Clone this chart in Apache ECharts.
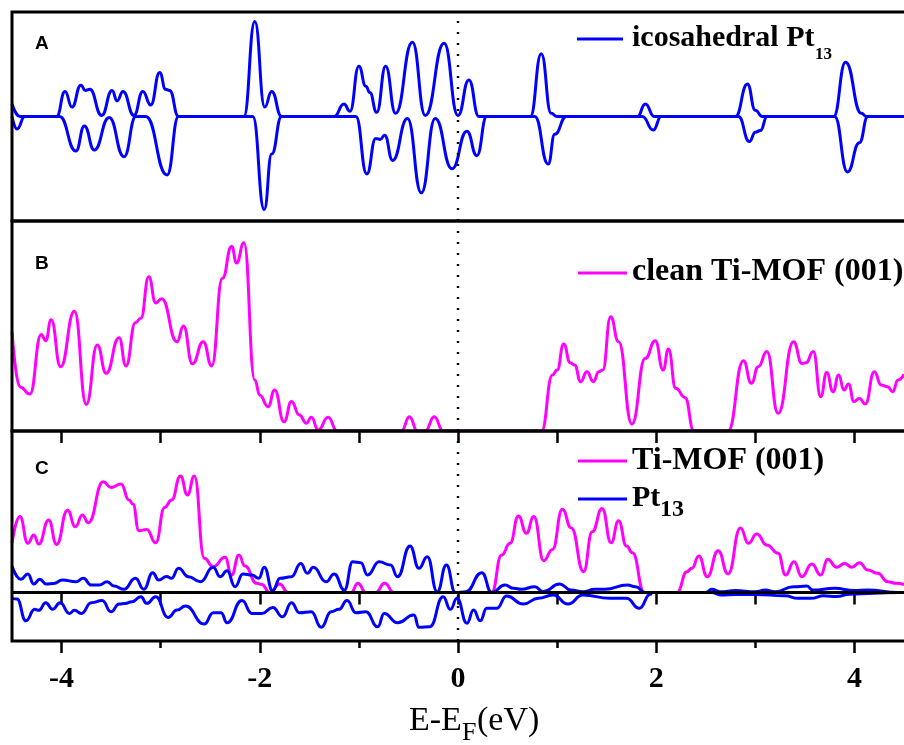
<!DOCTYPE html>
<html>
<head>
<meta charset="utf-8">
<script src="https://cdn.jsdelivr.net/npm/echarts@6/dist/echarts.min.js"></script>
<style>
html,body{margin:0;padding:0;background:#fff;}
#chart{width:904px;height:745px;}
</style>
</head>
<body>
<div id="chart"></div>
<script>
// ---------- data (energy in eV, DOS in arbitrary units) ----------
const xTicks = [-4, -3, -2, -1, 0, 1, 2, 3, 4];
const xMajorTicks = [-4, -2, 0, 2, 4];
const xMinorTicks = [-3, -1, 1, 3];

// Panel A: icosahedral Pt13, spin up (positive) and spin down (negative)
const ptA_up = [[-4.5,0.12],[-4.42,0],[-4.05,0],[-3.965,0.24],[-3.895,0.09],[-3.805,0.30],[-3.76,0.25],[-3.715,0.26],[-3.595,0.01],[-3.49,0.25],[-3.44,0.15],[-3.38,0.24],[-3.27,0.01],[-3.18,0.24],[-3.10,0.11],[-3.01,0.42],[-2.95,0.26],[-2.91,0.25],[-2.82,0],[-2.16,0],[-2.05,0.91],[-1.95,0.09],[-1.88,0.24],[-1.78,0],[-1.25,0],[-1.15,0.12],[-1.09,0.05],[-1.0,0.48],[-0.93,0.29],[-0.89,0.23],[-0.82,0.04],[-0.73,0.48],[-0.63,0.03],[-0.46,0.71],[-0.33,0.01],[-0.14,0.70],[0.0,0.01],[0.11,0.35],[0.21,0],[0.73,0],[0.84,0.60],[0.94,0.03],[1.0,0],[1.81,0],[1.89,0.12],[1.98,0],[2.80,0],[2.92,0.31],[3.0,0.06],[3.07,0],[3.79,0],[3.91,0.52],[4.07,0.03],[4.12,0],[4.5,0]];
const ptA_down = [[-4.5,0],[-4.45,-0.12],[-4.37,0],[-4.02,0],[-3.855,-0.33],[-3.77,-0.09],[-3.67,-0.32],[-3.52,-0.01],[-3.37,-0.385],[-3.25,0],[-3.15,0],[-2.935,-0.56],[-2.82,0],[-2.07,0],[-1.955,-0.89],[-1.88,-0.36],[-1.78,0],[-1.03,0],[-0.92,-0.55],[-0.83,-0.21],[-0.785,-0.22],[-0.74,-0.18],[-0.66,-0.42],[-0.51,-0.02],[-0.37,-0.73],[-0.23,-0.02],[-0.06,-0.50],[0.09,-0.14],[0.19,-0.375],[0.29,0],[0.775,0],[0.91,-0.455],[0.976,-0.17],[1.093,0],[1.86,0],[1.97,-0.13],[2.05,0],[2.83,0],[2.94,-0.24],[3.0,-0.15],[3.05,-0.135],[3.12,0],[3.80,0],[3.93,-0.53],[4.05,-0.25],[4.135,0],[4.5,0]];

// Panel B: clean Ti-MOF (001)
const mofB = [[-4.5,0.473],[-4.42,0.21],[-4.32,0.176],[-4.205,0.46],[-4.16,0.43],[-4.105,0.53],[-4.01,0.306],[-3.87,0.57],[-3.75,0.127],[-3.64,0.41],[-3.55,0.275],[-3.42,0.444],[-3.35,0.31],[-3.255,0.516],[-3.20,0.537],[-3.12,0.735],[-3.05,0.61],[-2.99,0.63],[-2.835,0.425],[-2.77,0.50],[-2.68,0.32],[-2.57,0.425],[-2.485,0.31],[-2.377,0.727],[-2.284,0.88],[-2.234,0.80],[-2.16,0.897],[-2.05,0.243],[-2.0,0.17],[-1.916,0.116],[-1.85,0.195],[-1.755,0.044],[-1.68,0.14],[-1.60,0.076],[-1.53,0.037],[-1.48,0.065],[-1.41,0.005],[-1.31,0.065],[-1.22,0],[-0.57,0],[-0.49,0.068],[-0.41,0],[-0.33,0],[-0.24,0.068],[-0.15,0],[0.843,0],[0.953,0.267],[1.0,0.29],[1.066,0.414],[1.133,0.325],[1.177,0.314],[1.237,0.235],[1.30,0.282],[1.367,0.235],[1.42,0.282],[1.46,0.29],[1.54,0.544],[1.62,0.425],[1.755,0.033],[1.89,0.346],[1.99,0.43],[2.07,0.29],[2.123,0.39],[2.197,0.203],[2.29,0.16],[2.38,0],[2.725,0],[2.88,0.335],[2.96,0.227],[3.03,0.306],[3.116,0.378],[3.23,0.084],[3.385,0.425],[3.47,0.322],[3.51,0.325],[3.585,0.378],[3.66,0.163],[3.72,0.278],[3.785,0.187],[3.84,0.267],[3.895,0.195],[3.94,0.224],[3.995,0.14],[4.05,0.155],[4.11,0.129],[4.20,0.282],[4.27,0.219],[4.335,0.211],[4.385,0.187],[4.44,0.243],[4.5,0.27]];

// Panel C: Ti-MOF (001) and Pt13 (up / down) in the Pt13/Ti-MOF system
const mofC = [[-4.5,0.305],[-4.42,0.47],[-4.34,0.305],[-4.28,0.356],[-4.23,0.30],[-4.13,0.449],[-4.05,0.298],[-3.94,0.51],[-3.86,0.407],[-3.79,0.48],[-3.73,0.432],[-3.58,0.686],[-3.50,0.651],[-3.40,0.672],[-3.32,0.573],[-3.28,0.548],[-3.22,0.383],[-3.14,0.39],[-3.05,0.308],[-2.96,0.527],[-2.89,0.573],[-2.80,0.721],[-2.73,0.604],[-2.66,0.721],[-2.56,0.212],[-2.47,0.16],[-2.35,0.218],[-2.285,0.108],[-2.21,0.232],[-2.15,0.164],[-2.03,0.057],[-1.98,0.05],[-1.90,0],[-1.80,0.053],[-1.715,0],[-1.08,0],[-1.01,0.057],[-0.93,0],[-0.83,0],[-0.74,0.057],[-0.647,0],[0.34,0],[0.44,0.232],[0.525,0.305],[0.61,0.474],[0.69,0.367],[0.765,0.47],[0.865,0.197],[0.953,0.267],[1.053,0.515],[1.143,0.40],[1.267,0.129],[1.354,0.376],[1.454,0.52],[1.545,0.308],[1.62,0.445],[1.70,0.288],[1.76,0.246],[1.88,0],[2.21,0],[2.31,0.129],[2.36,0.15],[2.43,0.226],[2.515,0.098],[2.625,0.259],[2.725,0.115],[2.85,0.40],[2.93,0.305],[3.015,0.362],[3.116,0.294],[3.23,0.243],[3.305,0.108],[3.39,0.19],[3.47,0.098],[3.57,0.176],[3.66,0.108],[3.73,0.206],[3.82,0.156],[3.90,0.18],[3.975,0.156],[4.05,0.185],[4.135,0.139],[4.235,0.119],[4.335,0.067],[4.42,0.057],[4.5,0.05]];
const ptC_up = [[-4.5,0.164],[-4.41,0.082],[-4.34,0.115],[-4.28,0.053],[-4.22,0.082],[-4.155,0.053],[-4.08,0.056],[-3.99,0.077],[-3.855,0.067],[-3.78,0.088],[-3.70,0.046],[-3.62,0.046],[-3.54,0.067],[-3.47,0.04],[-3.37,0.02],[-3.255,0.088],[-3.17,0.02],[-3.08,0.123],[-3.02,0.077],[-2.94,0.10],[-2.89,0.088],[-2.82,0.15],[-2.72,0.098],[-2.60,0.067],[-2.47,0.156],[-2.40,0.098],[-2.33,0.135],[-2.25,0.036],[-2.17,0.115],[-2.08,0.108],[-2.01,0.088],[-1.955,0.156],[-1.87,0.011],[-1.795,0.088],[-1.68,0.098],[-1.587,0.18],[-1.52,0.119],[-1.46,0.156],[-1.33,0.067],[-1.25,0.115],[-1.146,0.015],[-1.063,0.19],[-0.98,0.185],[-0.913,0.108],[-0.796,0.19],[-0.68,0.17],[-0.61,0.098],[-0.484,0.288],[-0.394,0.15],[-0.31,0.222],[-0.21,0.005],[-0.117,0.17],[-0.027,0],[0.08,0.005],[0.24,0.123],[0.34,0],[0.475,0.046],[0.56,0.026],[0.64,0.02],[0.775,0.036],[0.86,0.006],[1.026,0.053],[1.14,0.015],[1.26,0.005],[1.38,0.02],[1.48,0.02],[1.71,0.046],[1.79,0.036],[1.89,0],[2.5,0],[2.56,0.02],[2.65,0.005],[2.8,0.012],[3.0,0.005],[3.1,0.015],[3.2,0.005],[3.385,0.036],[3.52,0.04],[3.58,0.015],[3.80,0.026],[4.0,0.012],[4.13,0.015],[4.44,0],[4.5,0]];
const ptC_down = [[-4.5,-0.036],[-4.45,-0.04],[-4.36,-0.175],[-4.27,-0.104],[-4.23,-0.11],[-4.16,-0.063],[-4.09,-0.104],[-4.015,-0.063],[-3.92,-0.129],[-3.87,-0.11],[-3.80,-0.129],[-3.70,-0.063],[-3.59,-0.05],[-3.50,-0.119],[-3.42,-0.071],[-3.36,-0.068],[-3.29,-0.057],[-3.20,-0.026],[-3.14,-0.067],[-3.05,-0.026],[-2.925,-0.154],[-2.835,-0.108],[-2.75,-0.084],[-2.56,-0.195],[-2.47,-0.125],[-2.39,-0.125],[-2.33,-0.187],[-2.18,-0.05],[-2.08,-0.129],[-1.98,-0.13],[-1.87,-0.092],[-1.77,-0.15],[-1.68,-0.063],[-1.60,-0.125],[-1.48,-0.119],[-1.38,-0.215],[-1.28,-0.119],[-1.20,-0.104],[-1.12,-0.05],[-1.03,-0.125],[-0.93,-0.119],[-0.81,-0.212],[-0.745,-0.129],[-0.61,-0.187],[-0.445,-0.139],[-0.394,-0.215],[-0.284,-0.212],[-0.15,-0.026],[-0.077,-0.104],[-0.01,-0.036],[0.09,-0.19],[0.157,-0.108],[0.224,-0.175],[0.29,-0.098],[0.39,-0.098],[0.49,-0.022],[0.66,-0.071],[0.81,-0.036],[0.96,-0.015],[1.11,-0.071],[1.26,-0.015],[1.53,-0.036],[1.70,-0.036],[1.83,-0.098],[1.94,-0.01],[1.96,0],[2.56,0],[2.65,-0.015],[2.8,-0.012],[3.0,-0.012],[3.30,-0.02],[3.43,-0.036],[3.56,-0.036],[3.69,-0.02],[3.82,-0.025],[3.95,-0.01],[4.44,0],[4.5,0]];

// ---------- layout / style ----------
const SERIF = "'Liberation Serif', 'Times New Roman', serif";
const SANS = "'Liberation Sans', Arial, sans-serif";
const BLUE = '#0000ff';
const PINK = '#ff00ff';
const L = 12, W = 898;
const panels = [{top: 12, h: 209}, {top: 221, h: 210}, {top: 431, h: 210}];

const chart = echarts.init(document.getElementById('chart'), null, {renderer: 'canvas'});

function lineSeries(name, data, color, xi, yi, extra) {
  return Object.assign({
    name: name, type: 'line', data: data,
    xAxisIndex: xi, yAxisIndex: yi,
    showSymbol: false, symbol: 'none',
    smooth: 0.5, smoothMonotone: 'x',
    lineStyle: {color: color, width: 3},
    itemStyle: {color: color},
    clip: true, silent: true, z: 3
  }, extra || {});
}
const fermiLine = {
  silent: true, symbol: 'none', label: {show: false},
  lineStyle: {color: '#000', width: 2.4, type: [2, 9]},
  data: [{xAxis: 0}]
};

function txt(x, y, s, size, weight, family, align) {
  return {type: 'text', z: 100, x: x, y: y, silent: true,
    style: {text: s, fontFamily: family || SERIF, fontWeight: weight || 'bold', fontSize: size,
      fill: '#000', align: align || 'left', verticalAlign: 'middle'}};
}
function legLine(x1, x2, y, color) {
  return {type: 'line', z: 100, silent: true, shape: {x1: x1, y1: y, x2: x2, y2: y}, style: {stroke: color, lineWidth: 3}};
}

const xBase = {type: 'value', min: -4.5, max: 4.5, splitLine: {show: false}, axisLine: {show: false}};

const option = {
  animation: false,
  backgroundColor: '#fff',
  grid: panels.map(p => ({left: L, top: p.top, width: W, height: p.h, show: false})),
  xAxis: [
    Object.assign({}, xBase, {gridIndex: 0, show: false}),
    Object.assign({}, xBase, {gridIndex: 1, position: 'top',
      axisTick: {show: true, inside: true, length: 12, customValues: xTicks, lineStyle: {color: '#000', width: 2.5}},
      axisLabel: {show: false}}),
    Object.assign({}, xBase, {gridIndex: 2, position: 'top',
      axisTick: {show: true, inside: true, length: 12, customValues: xTicks, lineStyle: {color: '#000', width: 2.5}},
      axisLabel: {show: false}}),
    Object.assign({}, xBase, {gridIndex: 2, position: 'bottom',
      axisTick: {show: true, inside: false, length: 12, customValues: xMajorTicks, lineStyle: {color: '#000', width: 2.5}},
      axisLabel: {show: true, customValues: xMajorTicks, margin: 23,
        fontFamily: SERIF, fontWeight: 'bold', fontSize: 30, color: '#000',
        formatter: v => String(v)}}),
    Object.assign({}, xBase, {gridIndex: 2, position: 'bottom',
      axisTick: {show: true, inside: false, length: 7, customValues: xMinorTicks, lineStyle: {color: '#000', width: 2.5}},
      axisLabel: {show: false}})
  ],
  yAxis: [
    {type: 'value', gridIndex: 0, min: -1, max: 1, show: false},
    {type: 'value', gridIndex: 1, min: 0, max: 1, show: false},
    {type: 'value', gridIndex: 2, min: -0.3, max: 1, show: false}
  ],
  series: [
    lineSeries('icosahedral Pt13 up', ptA_up, BLUE, 0, 0, {markLine: fermiLine}),
    lineSeries('icosahedral Pt13 down', ptA_down, BLUE, 0, 0),
    lineSeries('clean Ti-MOF (001)', mofB, PINK, 1, 1, {markLine: fermiLine}),
    lineSeries('Ti-MOF (001)', mofC, PINK, 3, 2, {markLine: fermiLine}),
    lineSeries('Pt13 up', ptC_up, BLUE, 3, 2),
    lineSeries('Pt13 down', ptC_down, BLUE, 3, 2),
    {type: 'line', xAxisIndex: 3, yAxisIndex: 2, data: [], z: 6, silent: true,
      markLine: {silent: true, symbol: 'none', label: {show: false},
        lineStyle: {color: '#000', width: 3, type: 'solid'}, data: [{yAxis: 0}]}}
  ],
  graphic: [
    // panel frames
    ...panels.map(p => ({type: 'rect', z: 100, silent: true,
      shape: {x: L, y: p.top, width: W, height: p.h},
      style: {fill: 'none', stroke: '#000', lineWidth: 3}})),
    // panel letters
    txt(35, 44, 'A', 19, 'bold', SANS),
    txt(35, 264, 'B', 19, 'bold', SANS),
    txt(35, 469, 'C', 19, 'bold', SANS),
    // legend A
    legLine(577, 623, 39, BLUE),
    txt(632, 38, 'icosahedral Pt', 30),
    txt(815, 54.5, '13', 17),
    // legend B
    legLine(578, 627, 273, PINK),
    txt(632, 272, 'clean Ti-MOF (001)', 32),
    // legend C
    legLine(578, 627, 461, PINK),
    txt(632, 461, 'Ti-MOF (001)', 32),
    legLine(578, 627, 499, BLUE),
    txt(632, 498, 'Pt', 30),
    txt(660, 510, '13', 24),
    // x-axis title
    txt(409, 721.5, 'E-E', 34, 'normal'),
    txt(462, 733, 'F', 26, 'normal'),
    txt(477, 721.5, '(eV)', 34, 'normal')
  ]
};
chart.setOption(option);
</script>
</body>
</html>
